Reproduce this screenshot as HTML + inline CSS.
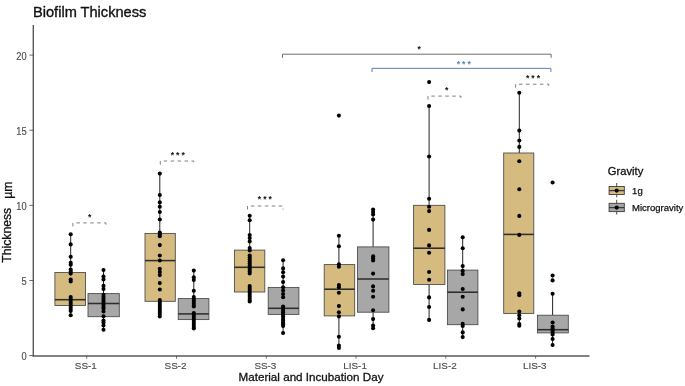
<!DOCTYPE html>
<html><head><meta charset="utf-8"><title>Biofilm Thickness</title>
<style>
html,body{margin:0;padding:0;background:#fff;}
body{width:685px;height:386px;overflow:hidden;font-family:"Liberation Sans",sans-serif;}
svg{display:block;filter:blur(0.35px);}
</style></head><body>
<svg width="685" height="386" viewBox="0 0 685 386">
<rect width="685" height="386" fill="#ffffff"/>
<g font-family="'Liberation Sans', sans-serif">
<line x1="70.7" y1="234.3" x2="70.7" y2="272.5" stroke="#262626" stroke-width="1"/>
<line x1="70.7" y1="305.5" x2="70.7" y2="315.3" stroke="#262626" stroke-width="1"/>
<rect x="54.9" y="272.5" width="30.6" height="33.0" fill="#D5BB80" stroke="#474747" stroke-width="0.85"/>
<line x1="54.9" y1="299.7" x2="85.5" y2="299.7" stroke="#2e2e2e" stroke-width="1.55"/>
<line x1="103.5" y1="270.0" x2="103.5" y2="293.6" stroke="#262626" stroke-width="1"/>
<line x1="103.5" y1="316.7" x2="103.5" y2="329.7" stroke="#262626" stroke-width="1"/>
<rect x="88.0" y="293.6" width="31.3" height="23.1" fill="#A7A7A7" stroke="#474747" stroke-width="0.85"/>
<line x1="88.0" y1="303.5" x2="119.3" y2="303.5" stroke="#2e2e2e" stroke-width="1.55"/>
<line x1="159.8" y1="173.6" x2="159.8" y2="233.4" stroke="#262626" stroke-width="1"/>
<line x1="159.8" y1="301.3" x2="159.8" y2="316.7" stroke="#262626" stroke-width="1"/>
<rect x="145.0" y="233.4" width="30.3" height="67.9" fill="#D5BB80" stroke="#474747" stroke-width="0.85"/>
<line x1="145.0" y1="260.6" x2="175.3" y2="260.6" stroke="#2e2e2e" stroke-width="1.55"/>
<line x1="193.8" y1="270.6" x2="193.8" y2="298.6" stroke="#262626" stroke-width="1"/>
<line x1="193.8" y1="319.6" x2="193.8" y2="328.5" stroke="#262626" stroke-width="1"/>
<rect x="178.2" y="298.6" width="30.7" height="21.0" fill="#A7A7A7" stroke="#474747" stroke-width="0.85"/>
<line x1="178.2" y1="313.9" x2="208.9" y2="313.9" stroke="#2e2e2e" stroke-width="1.55"/>
<line x1="249.7" y1="215.7" x2="249.7" y2="250.1" stroke="#262626" stroke-width="1"/>
<line x1="249.7" y1="292.0" x2="249.7" y2="301.5" stroke="#262626" stroke-width="1"/>
<rect x="234.4" y="250.1" width="30.4" height="41.9" fill="#D5BB80" stroke="#474747" stroke-width="0.85"/>
<line x1="234.4" y1="267.3" x2="264.8" y2="267.3" stroke="#2e2e2e" stroke-width="1.55"/>
<line x1="283.1" y1="260.4" x2="283.1" y2="287.4" stroke="#262626" stroke-width="1"/>
<line x1="283.1" y1="314.4" x2="283.1" y2="332.9" stroke="#262626" stroke-width="1"/>
<rect x="268.2" y="287.4" width="30.7" height="27.0" fill="#A7A7A7" stroke="#474747" stroke-width="0.85"/>
<line x1="268.2" y1="308.3" x2="298.9" y2="308.3" stroke="#2e2e2e" stroke-width="1.55"/>
<line x1="338.9" y1="235.7" x2="338.9" y2="264.6" stroke="#262626" stroke-width="1"/>
<line x1="338.9" y1="315.9" x2="338.9" y2="348.0" stroke="#262626" stroke-width="1"/>
<rect x="324.2" y="264.6" width="30.5" height="51.3" fill="#D5BB80" stroke="#474747" stroke-width="0.85"/>
<line x1="324.2" y1="289.2" x2="354.7" y2="289.2" stroke="#2e2e2e" stroke-width="1.55"/>
<line x1="373.1" y1="209.5" x2="373.1" y2="246.9" stroke="#262626" stroke-width="1"/>
<line x1="373.1" y1="312.2" x2="373.1" y2="328.2" stroke="#262626" stroke-width="1"/>
<rect x="357.5" y="246.9" width="31.4" height="65.3" fill="#A7A7A7" stroke="#474747" stroke-width="0.85"/>
<line x1="357.5" y1="279.0" x2="388.9" y2="279.0" stroke="#2e2e2e" stroke-width="1.55"/>
<line x1="429.1" y1="106.0" x2="429.1" y2="205.3" stroke="#262626" stroke-width="1"/>
<line x1="429.1" y1="284.5" x2="429.1" y2="319.9" stroke="#262626" stroke-width="1"/>
<rect x="413.6" y="205.3" width="31.3" height="79.2" fill="#D5BB80" stroke="#474747" stroke-width="0.85"/>
<line x1="413.6" y1="248.2" x2="444.9" y2="248.2" stroke="#2e2e2e" stroke-width="1.55"/>
<line x1="462.7" y1="237.3" x2="462.7" y2="270.1" stroke="#262626" stroke-width="1"/>
<line x1="462.7" y1="324.7" x2="462.7" y2="337.1" stroke="#262626" stroke-width="1"/>
<rect x="447.4" y="270.1" width="30.5" height="54.6" fill="#A7A7A7" stroke="#474747" stroke-width="0.85"/>
<line x1="447.4" y1="292.2" x2="477.9" y2="292.2" stroke="#2e2e2e" stroke-width="1.55"/>
<line x1="519.3" y1="92.8" x2="519.3" y2="153.0" stroke="#262626" stroke-width="1"/>
<line x1="519.3" y1="313.4" x2="519.3" y2="325.7" stroke="#262626" stroke-width="1"/>
<rect x="503.7" y="153.0" width="30.1" height="160.4" fill="#D5BB80" stroke="#474747" stroke-width="0.85"/>
<line x1="503.7" y1="234.4" x2="533.8" y2="234.4" stroke="#2e2e2e" stroke-width="1.55"/>
<line x1="552.6" y1="293.7" x2="552.6" y2="315.2" stroke="#262626" stroke-width="1"/>
<line x1="552.6" y1="332.9" x2="552.6" y2="345.0" stroke="#262626" stroke-width="1"/>
<rect x="537.4" y="315.2" width="30.9" height="17.7" fill="#A7A7A7" stroke="#474747" stroke-width="0.85"/>
<line x1="537.4" y1="329.7" x2="568.3" y2="329.7" stroke="#2e2e2e" stroke-width="1.55"/>
<g fill="#000"><circle cx="70.7" cy="234.3" r="2.05"/><circle cx="70.7" cy="244.4" r="2.05"/><circle cx="70.7" cy="256.8" r="2.05"/><circle cx="70.7" cy="262.7" r="2.05"/><circle cx="70.7" cy="264.8" r="2.05"/><circle cx="70.7" cy="269.5" r="2.05"/><circle cx="70.7" cy="271.5" r="2.05"/><circle cx="70.7" cy="273.6" r="2.05"/><circle cx="70.7" cy="279.5" r="2.05"/><circle cx="70.7" cy="281.5" r="2.05"/><circle cx="70.7" cy="297" r="2.05"/><circle cx="70.7" cy="299" r="2.05"/><circle cx="70.7" cy="301" r="2.05"/><circle cx="70.7" cy="303" r="2.05"/><circle cx="70.7" cy="305" r="2.05"/><circle cx="70.7" cy="307" r="2.05"/><circle cx="70.7" cy="309" r="2.05"/><circle cx="70.7" cy="311" r="2.05"/><circle cx="70.7" cy="315.2" r="2.05"/></g>
<g fill="#000"><circle cx="103.5" cy="270" r="2.05"/><circle cx="103.5" cy="276.6" r="2.05"/><circle cx="103.5" cy="279.5" r="2.05"/><circle cx="103.5" cy="285.9" r="2.05"/><circle cx="103.5" cy="289" r="2.05"/><circle cx="103.5" cy="294.7" r="2.05"/><circle cx="103.5" cy="297" r="2.05"/><circle cx="103.5" cy="299" r="2.05"/><circle cx="103.5" cy="301" r="2.05"/><circle cx="103.5" cy="303" r="2.05"/><circle cx="103.5" cy="305" r="2.05"/><circle cx="103.5" cy="307" r="2.05"/><circle cx="103.5" cy="308.5" r="2.05"/><circle cx="103.5" cy="311.5" r="2.05"/><circle cx="103.5" cy="316.3" r="2.05"/><circle cx="103.5" cy="320.5" r="2.05"/><circle cx="103.5" cy="322.5" r="2.05"/><circle cx="103.5" cy="325.5" r="2.05"/><circle cx="103.5" cy="329.7" r="2.05"/></g>
<g fill="#000"><circle cx="159.8" cy="173.6" r="2.05"/><circle cx="159.8" cy="195" r="2.05"/><circle cx="159.8" cy="202.4" r="2.05"/><circle cx="159.8" cy="206.8" r="2.05"/><circle cx="159.8" cy="212" r="2.05"/><circle cx="159.8" cy="219.5" r="2.05"/><circle cx="159.8" cy="232.5" r="2.05"/><circle cx="159.8" cy="234.5" r="2.05"/><circle cx="159.8" cy="236.3" r="2.05"/><circle cx="159.8" cy="245.1" r="2.05"/><circle cx="159.8" cy="255.5" r="2.05"/><circle cx="159.8" cy="260.5" r="2.05"/><circle cx="159.8" cy="268.7" r="2.05"/><circle cx="159.8" cy="271.9" r="2.05"/><circle cx="159.8" cy="275.1" r="2.05"/><circle cx="159.8" cy="283.1" r="2.05"/><circle cx="159.8" cy="289.5" r="2.05"/><circle cx="159.8" cy="300" r="2.05"/><circle cx="159.8" cy="302" r="2.05"/><circle cx="159.8" cy="304" r="2.05"/><circle cx="159.8" cy="306" r="2.05"/><circle cx="159.8" cy="308" r="2.05"/><circle cx="159.8" cy="310" r="2.05"/><circle cx="159.8" cy="312" r="2.05"/><circle cx="159.8" cy="314" r="2.05"/><circle cx="159.8" cy="316.5" r="2.05"/></g>
<g fill="#000"><circle cx="193.8" cy="270.6" r="2.05"/><circle cx="193.8" cy="277.2" r="2.05"/><circle cx="193.8" cy="279.9" r="2.05"/><circle cx="193.8" cy="290.7" r="2.05"/><circle cx="193.8" cy="297" r="2.05"/><circle cx="193.8" cy="299" r="2.05"/><circle cx="193.8" cy="301" r="2.05"/><circle cx="193.8" cy="303" r="2.05"/><circle cx="193.8" cy="305" r="2.05"/><circle cx="193.8" cy="306.5" r="2.05"/><circle cx="193.8" cy="313" r="2.05"/><circle cx="193.8" cy="315" r="2.05"/><circle cx="193.8" cy="317" r="2.05"/><circle cx="193.8" cy="319" r="2.05"/><circle cx="193.8" cy="321" r="2.05"/><circle cx="193.8" cy="323" r="2.05"/><circle cx="193.8" cy="325" r="2.05"/><circle cx="193.8" cy="327" r="2.05"/><circle cx="193.8" cy="328.5" r="2.05"/></g>
<g fill="#000"><circle cx="249.7" cy="215.7" r="2.05"/><circle cx="249.7" cy="220.2" r="2.05"/><circle cx="249.7" cy="235" r="2.05"/><circle cx="249.7" cy="238" r="2.05"/><circle cx="249.7" cy="241.4" r="2.05"/><circle cx="249.7" cy="248" r="2.05"/><circle cx="249.7" cy="250.4" r="2.05"/><circle cx="249.7" cy="255.5" r="2.05"/><circle cx="249.7" cy="257.5" r="2.05"/><circle cx="249.7" cy="259.5" r="2.05"/><circle cx="249.7" cy="261.5" r="2.05"/><circle cx="249.7" cy="263.5" r="2.05"/><circle cx="249.7" cy="265.5" r="2.05"/><circle cx="249.7" cy="267.5" r="2.05"/><circle cx="249.7" cy="269.5" r="2.05"/><circle cx="249.7" cy="271.5" r="2.05"/><circle cx="249.7" cy="273.5" r="2.05"/><circle cx="249.7" cy="286" r="2.05"/><circle cx="249.7" cy="288" r="2.05"/><circle cx="249.7" cy="290" r="2.05"/><circle cx="249.7" cy="292" r="2.05"/><circle cx="249.7" cy="294" r="2.05"/><circle cx="249.7" cy="296" r="2.05"/><circle cx="249.7" cy="298" r="2.05"/><circle cx="249.7" cy="300" r="2.05"/><circle cx="249.7" cy="301.5" r="2.05"/></g>
<g fill="#000"><circle cx="283.1" cy="260.3" r="2.05"/><circle cx="283.1" cy="268.4" r="2.05"/><circle cx="283.1" cy="272.2" r="2.05"/><circle cx="283.1" cy="276.6" r="2.05"/><circle cx="283.1" cy="282.1" r="2.05"/><circle cx="283.1" cy="287.2" r="2.05"/><circle cx="283.1" cy="290.5" r="2.05"/><circle cx="283.1" cy="294.1" r="2.05"/><circle cx="283.1" cy="297.3" r="2.05"/><circle cx="283.1" cy="306.5" r="2.05"/><circle cx="283.1" cy="308.6" r="2.05"/><circle cx="283.1" cy="310.8" r="2.05"/><circle cx="283.1" cy="312.6" r="2.05"/><circle cx="283.1" cy="314.4" r="2.05"/><circle cx="283.1" cy="316.6" r="2.05"/><circle cx="283.1" cy="318.8" r="2.05"/><circle cx="283.1" cy="320.6" r="2.05"/><circle cx="283.1" cy="322.4" r="2.05"/><circle cx="283.1" cy="324.2" r="2.05"/><circle cx="283.1" cy="326.0" r="2.05"/><circle cx="283.1" cy="333.0" r="2.05"/></g>
<g fill="#000"><circle cx="338.9" cy="115.6" r="2.05"/><circle cx="338.9" cy="235.7" r="2.05"/><circle cx="338.9" cy="246.3" r="2.05"/><circle cx="338.9" cy="264.3" r="2.05"/><circle cx="338.9" cy="266.7" r="2.05"/><circle cx="338.9" cy="285.1" r="2.05"/><circle cx="338.9" cy="287.3" r="2.05"/><circle cx="338.9" cy="292.7" r="2.05"/><circle cx="338.9" cy="306.1" r="2.05"/><circle cx="338.9" cy="312.2" r="2.05"/><circle cx="338.9" cy="316.4" r="2.05"/><circle cx="338.9" cy="336.8" r="2.05"/><circle cx="338.9" cy="345.6" r="2.05"/><circle cx="338.9" cy="348" r="2.05"/></g>
<g fill="#000"><circle cx="373.1" cy="209.5" r="2.05"/><circle cx="373.1" cy="212" r="2.05"/><circle cx="373.1" cy="214.5" r="2.05"/><circle cx="373.1" cy="219.6" r="2.05"/><circle cx="373.1" cy="256.2" r="2.05"/><circle cx="373.1" cy="258.3" r="2.05"/><circle cx="373.1" cy="260.4" r="2.05"/><circle cx="373.1" cy="273.6" r="2.05"/><circle cx="373.1" cy="286.4" r="2.05"/><circle cx="373.1" cy="290.8" r="2.05"/><circle cx="373.1" cy="296.8" r="2.05"/><circle cx="373.1" cy="310.3" r="2.05"/><circle cx="373.1" cy="319.1" r="2.05"/><circle cx="373.1" cy="325.5" r="2.05"/><circle cx="373.1" cy="328.2" r="2.05"/></g>
<g fill="#000"><circle cx="429.1" cy="82.1" r="2.05"/><circle cx="429.1" cy="106" r="2.05"/><circle cx="429.1" cy="156.5" r="2.05"/><circle cx="429.1" cy="198.7" r="2.05"/><circle cx="429.1" cy="206.7" r="2.05"/><circle cx="429.1" cy="211.1" r="2.05"/><circle cx="429.1" cy="229.9" r="2.05"/><circle cx="429.1" cy="245.4" r="2.05"/><circle cx="429.1" cy="252.8" r="2.05"/><circle cx="429.1" cy="272" r="2.05"/><circle cx="429.1" cy="279.7" r="2.05"/><circle cx="429.1" cy="297.4" r="2.05"/><circle cx="429.1" cy="307" r="2.05"/><circle cx="429.1" cy="319.9" r="2.05"/></g>
<g fill="#000"><circle cx="462.7" cy="237.3" r="2.05"/><circle cx="462.7" cy="248.2" r="2.05"/><circle cx="462.7" cy="266.1" r="2.05"/><circle cx="462.7" cy="270.9" r="2.05"/><circle cx="462.7" cy="274.1" r="2.05"/><circle cx="462.7" cy="289" r="2.05"/><circle cx="462.7" cy="296.7" r="2.05"/><circle cx="462.7" cy="309.4" r="2.05"/><circle cx="462.7" cy="323.9" r="2.05"/><circle cx="462.7" cy="326" r="2.05"/><circle cx="462.7" cy="332.4" r="2.05"/><circle cx="462.7" cy="337.1" r="2.05"/></g>
<g fill="#000"><circle cx="519.3" cy="92.8" r="2.05"/><circle cx="519.3" cy="130.6" r="2.05"/><circle cx="519.3" cy="140.5" r="2.05"/><circle cx="519.3" cy="146.9" r="2.05"/><circle cx="519.3" cy="161.2" r="2.05"/><circle cx="519.3" cy="189.2" r="2.05"/><circle cx="519.3" cy="215.9" r="2.05"/><circle cx="519.3" cy="234.9" r="2.05"/><circle cx="519.3" cy="293.2" r="2.05"/><circle cx="519.3" cy="295.3" r="2.05"/><circle cx="519.3" cy="311.5" r="2.05"/><circle cx="519.3" cy="315.3" r="2.05"/><circle cx="519.3" cy="318.5" r="2.05"/><circle cx="519.3" cy="324" r="2.05"/><circle cx="519.3" cy="325.7" r="2.05"/></g>
<g fill="#000"><circle cx="552.6" cy="182.5" r="2.05"/><circle cx="552.6" cy="275.6" r="2.05"/><circle cx="552.6" cy="280.4" r="2.05"/><circle cx="552.6" cy="293.7" r="2.05"/><circle cx="552.6" cy="322.5" r="2.05"/><circle cx="552.6" cy="326.5" r="2.05"/><circle cx="552.6" cy="328.5" r="2.05"/><circle cx="552.6" cy="330.5" r="2.05"/><circle cx="552.6" cy="332.5" r="2.05"/><circle cx="552.6" cy="334.5" r="2.05"/><circle cx="552.6" cy="339" r="2.05"/><circle cx="552.6" cy="345" r="2.05"/></g>
<line x1="33.3" y1="25" x2="33.3" y2="356.6" stroke="#595959" stroke-width="1.4"/>
<line x1="32.6" y1="355.95" x2="589.5" y2="355.95" stroke="#595959" stroke-width="1.4"/>
<line x1="29.4" y1="355.5" x2="33.3" y2="355.5" stroke="#595959" stroke-width="0.9"/>
<text transform="translate(26.7,360.0) scale(0.94,1.03)" font-size="9.9" fill="#4d4d4d" stroke="#4d4d4d" stroke-width="0.15" text-anchor="end">0</text>
<line x1="29.4" y1="280.5" x2="33.3" y2="280.5" stroke="#595959" stroke-width="0.9"/>
<text transform="translate(26.7,285.0) scale(0.94,1.03)" font-size="9.9" fill="#4d4d4d" stroke="#4d4d4d" stroke-width="0.15" text-anchor="end">5</text>
<line x1="29.4" y1="205.4" x2="33.3" y2="205.4" stroke="#595959" stroke-width="0.9"/>
<text transform="translate(26.7,209.9) scale(0.94,1.03)" font-size="9.9" fill="#4d4d4d" stroke="#4d4d4d" stroke-width="0.15" text-anchor="end">10</text>
<line x1="29.4" y1="130.2" x2="33.3" y2="130.2" stroke="#595959" stroke-width="0.9"/>
<text transform="translate(26.7,134.7) scale(0.94,1.03)" font-size="9.9" fill="#4d4d4d" stroke="#4d4d4d" stroke-width="0.15" text-anchor="end">15</text>
<line x1="29.4" y1="55.1" x2="33.3" y2="55.1" stroke="#595959" stroke-width="0.9"/>
<text transform="translate(26.7,59.6) scale(0.94,1.03)" font-size="9.9" fill="#4d4d4d" stroke="#4d4d4d" stroke-width="0.15" text-anchor="end">20</text>
<line x1="86.7" y1="355.8" x2="86.7" y2="358.6" stroke="#595959" stroke-width="0.9"/>
<text x="85.8" y="369.3" font-size="9.9" fill="#4d4d4d" stroke="#4d4d4d" stroke-width="0.15" text-anchor="middle">SS-1</text>
<line x1="176.5" y1="355.8" x2="176.5" y2="358.6" stroke="#595959" stroke-width="0.9"/>
<text x="175.6" y="369.3" font-size="9.9" fill="#4d4d4d" stroke="#4d4d4d" stroke-width="0.15" text-anchor="middle">SS-2</text>
<line x1="266.3" y1="355.8" x2="266.3" y2="358.6" stroke="#595959" stroke-width="0.9"/>
<text x="265.4" y="369.3" font-size="9.9" fill="#4d4d4d" stroke="#4d4d4d" stroke-width="0.15" text-anchor="middle">SS-3</text>
<line x1="356.0" y1="355.8" x2="356.0" y2="358.6" stroke="#595959" stroke-width="0.9"/>
<text x="355.1" y="369.3" font-size="9.9" fill="#4d4d4d" stroke="#4d4d4d" stroke-width="0.15" text-anchor="middle">LIS-1</text>
<line x1="445.8" y1="355.8" x2="445.8" y2="358.6" stroke="#595959" stroke-width="0.9"/>
<text x="444.9" y="369.3" font-size="9.9" fill="#4d4d4d" stroke="#4d4d4d" stroke-width="0.15" text-anchor="middle">LIS-2</text>
<line x1="535.6" y1="355.8" x2="535.6" y2="358.6" stroke="#595959" stroke-width="0.9"/>
<text x="534.7" y="369.3" font-size="9.9" fill="#4d4d4d" stroke="#4d4d4d" stroke-width="0.15" text-anchor="middle">LIS-3</text>
<text x="33.0" y="17.4" font-size="14.6" fill="#111" stroke="#111" stroke-width="0.35">Biofilm Thickness</text>
<text x="311.0" y="380.8" font-size="11.65" fill="#111" stroke="#111" stroke-width="0.3" text-anchor="middle">Material and Incubation Day</text>
<text transform="translate(11.1,262.7) rotate(-90)" font-size="12.2" fill="#111" stroke="#111" stroke-width="0.3">Thickness</text>
<text transform="translate(11.6,198.7) rotate(-90)" font-size="12.2" fill="#111" stroke="#111" stroke-width="0.3">µm</text>
<path d="M72.9 226.45000000000002 L72.9 222.9 L105.9 222.9 L105.9 226.45000000000002" fill="none" stroke="#808080" stroke-width="1" stroke-dasharray="3.55 3.4"/>
<path d="M160.3 164.55 L160.3 161.0 L193.8 161.0 L193.8 164.55" fill="none" stroke="#808080" stroke-width="1" stroke-dasharray="3.55 3.4"/>
<path d="M247.5 209.55 L247.5 206.0 L283.0 206.0 L283.0 209.55" fill="none" stroke="#808080" stroke-width="1" stroke-dasharray="3.55 3.4"/>
<path d="M427.95 99.64999999999999 L427.95 96.1 L460.9 96.1 L460.9 99.64999999999999" fill="none" stroke="#808080" stroke-width="1" stroke-dasharray="3.55 3.4"/>
<path d="M515.6 87.75 L515.6 84.2 L548.7 84.2 L548.7 87.75" fill="none" stroke="#808080" stroke-width="1" stroke-dasharray="3.55 3.4"/>
<path d="M282.5 57.8 L282.5 54.2 L551.1 54.2 L551.1 57.8" fill="none" stroke="#5c5c5c" stroke-width="0.9"/>
<path d="M372 72 L372 68.35 L550.9 68.35 L550.9 72" fill="none" stroke="#5b7cb8" stroke-width="1"/>
<text x="89.8" y="219.8" font-size="8.6" font-weight="bold" fill="#111" text-anchor="middle">*</text>
<text x="172.4" y="157.9" font-size="8.6" font-weight="bold" fill="#111" text-anchor="middle">*</text>
<text x="177.8" y="157.9" font-size="8.6" font-weight="bold" fill="#111" text-anchor="middle">*</text>
<text x="183.2" y="157.9" font-size="8.6" font-weight="bold" fill="#111" text-anchor="middle">*</text>
<text x="259.5" y="202.3" font-size="8.6" font-weight="bold" fill="#111" text-anchor="middle">*</text>
<text x="264.9" y="202.3" font-size="8.6" font-weight="bold" fill="#111" text-anchor="middle">*</text>
<text x="270.3" y="202.3" font-size="8.6" font-weight="bold" fill="#111" text-anchor="middle">*</text>
<text x="446.7" y="92.9" font-size="8.6" font-weight="bold" fill="#111" text-anchor="middle">*</text>
<text x="527.6" y="81.4" font-size="8.6" font-weight="bold" fill="#111" text-anchor="middle">*</text>
<text x="533.0" y="81.4" font-size="8.6" font-weight="bold" fill="#111" text-anchor="middle">*</text>
<text x="538.4" y="81.4" font-size="8.6" font-weight="bold" fill="#111" text-anchor="middle">*</text>
<text x="419.3" y="52.4" font-size="8.6" font-weight="bold" fill="#111" text-anchor="middle">*</text>
<text x="458.4" y="67.2" font-size="8.6" font-weight="bold" fill="#5f7fb8" text-anchor="middle">*</text>
<text x="463.8" y="67.2" font-size="8.6" font-weight="bold" fill="#5f7fb8" text-anchor="middle">*</text>
<text x="469.2" y="67.2" font-size="8.6" font-weight="bold" fill="#5f7fb8" text-anchor="middle">*</text>
<text x="607.8" y="175.3" font-size="11.2" fill="#111" stroke="#111" stroke-width="0.3">Gravity</text>
<line x1="616.7" y1="183.0" x2="616.7" y2="197.4" stroke="#3a3a3a" stroke-width="0.9"/>
<rect x="609.1" y="186.5" width="15.2" height="8.0" fill="#D5BB80" stroke="#3a3a3a" stroke-width="0.9"/>
<line x1="609.1" y1="190.6" x2="624.3" y2="190.6" stroke="#3a3a3a" stroke-width="1.3"/>
<circle cx="616.7" cy="190.6" r="2.1" fill="#000"/>
<text x="632.1" y="194.1" font-size="9.5" fill="#111" stroke="#111" stroke-width="0.25">1g</text>
<line x1="616.7" y1="199.8" x2="616.7" y2="214.5" stroke="#3a3a3a" stroke-width="0.9"/>
<rect x="609.1" y="203.3" width="15.2" height="8.3" fill="#A7A7A7" stroke="#3a3a3a" stroke-width="0.9"/>
<line x1="609.1" y1="207.6" x2="624.3" y2="207.6" stroke="#3a3a3a" stroke-width="1.3"/>
<circle cx="616.7" cy="207.6" r="2.1" fill="#000"/>
<text x="632.1" y="211.1" font-size="9.5" fill="#111" stroke="#111" stroke-width="0.25">Microgravity</text>
</g></svg>
</body></html>
